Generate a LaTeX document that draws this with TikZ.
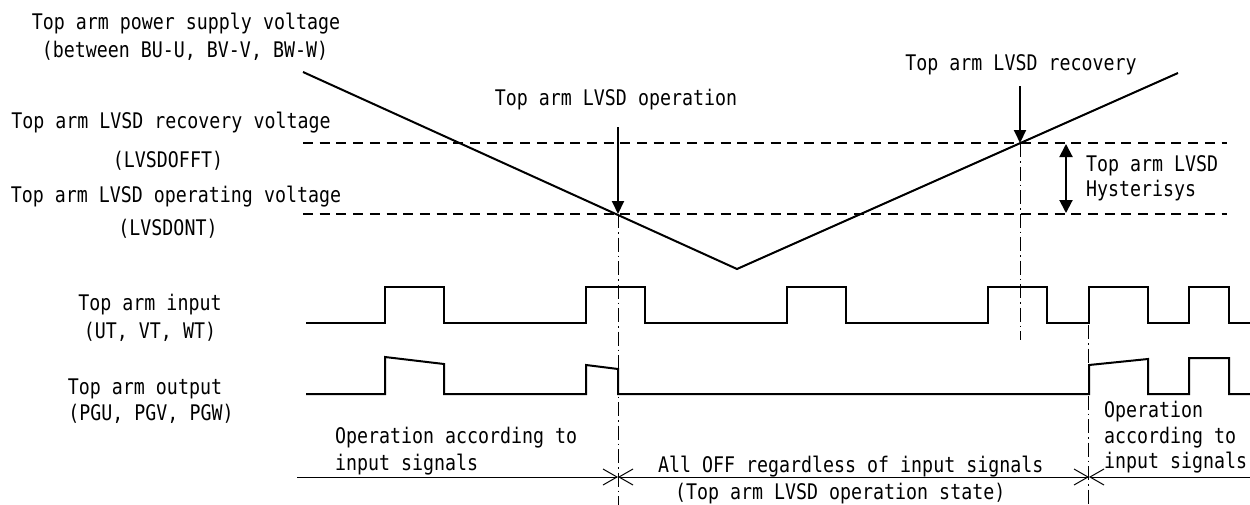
\documentclass[tikz,border=0pt]{standalone}
\usepackage{fontspec}
\newfontfamily\gothic[FakeStretch=0.85]{DejaVu Sans Mono}
\usetikzlibrary{arrows.meta}

\begin{document}
\begin{tikzpicture}[x=1pt,y=-1pt,
    lbl/.style={anchor=base,inner sep=0pt,font=\gothic\fontsize{21.5}{25}\selectfont},
    lbll/.style={lbl,anchor=base west},
    wave/.style={line width=2pt},
    level/.style={line width=2pt,dash pattern=on 10pt off 6.7pt},
    marker/.style={line width=0.9pt,dash pattern=on 14pt off 4pt on 1.5pt off 4pt},
    pointer/.style={line width=2pt,-{Triangle[length=13pt,width=12pt]}},
    dimline/.style={line width=1pt}]
    \useasboundingbox (0,0) rectangle (1250,504);

    % Labels
    \node[lbl] (pwr1) at (186,29) {Top arm power supply voltage};
    \node[lbl] (pwr2) at (185,57) {(between BU-U, BV-V, BW-W)};
    \node[lbl] (off1) at (171,128) {Top arm LVSD recovery voltage};
    \node[lbl] (off2) at (168,167) {(LVSDOFFT)};
    \node[lbl] (on1) at (176,202) {Top arm LVSD operating voltage};
    \node[lbl] (on2) at (168,235) {(LVSDONT)};
    \node[lbl] (in1) at (150,310) {Top arm input};
    \node[lbl] (in2) at (150,338) {(UT, VT, WT)};
    \node[lbl] (out1) at (145,394) {Top arm output};
    \node[lbl] (out2) at (151,420) {(PGU, PGV, PGW)};
    \node[lbl] (opt) at (616,105) {Top arm LVSD operation};
    \node[lbl] (rect) at (1021,70) {Top arm LVSD recovery};
    \node[lbll] (hys1) at (1086,171) {Top arm LVSD};
    \node[lbll] (hys2) at (1086,196) {Hysterisys};
    \node[lbll] (opl1) at (335,443) {Operation according to};
    \node[lbll] (opl2) at (335,470) {input signals};
    \node[lbll] (alloff) at (658,472) {All OFF regardless of input signals};
    \node[lbll] (state) at (675,499) {(Top arm LVSD operation state)};
    \node[lbll] (opr1) at (1104,417) {Operation};
    \node[lbll] (opr2) at (1104,443) {according to};
    \node[lbll] (opr3) at (1104,468) {input signals};

    % Points
    \coordinate (opx) at (618,214);
    \coordinate (recx) at (1020,143);
    \coordinate (opx0) at (618,127);
    \coordinate (recx0) at (1020,86);
    \coordinate (t1) at (618,477);
    \coordinate (t2) at (1089,477);

    % Voltage levels
    \draw[level] (303,143) -- (1227,143);
    \draw[level] (303,214) -- (1227,214);
    \draw[wave] (303,72) -- (737,269) -- (1178,73);

    % Arrows
    \draw[pointer] (opx0) -- (opx);
    \draw[pointer] (recx0) -- (recx);
    \draw[line width=2pt,{Triangle[length=13pt,width=13pt]}-{Triangle[length=13pt,width=13pt]}] (1066,144) -- (1066,213);

    % Markers
    \draw[marker] (opx) -- (618,510);
    \draw[marker] (recx) -- (1020,340);
    \draw[marker] (1088,325) -- (1088,510);

    % Input
    \draw[wave] (306,323) foreach \a/\b in {385/444,586/645,787/846,988/1047,1089/1148,1189/1229} {
        -- (\a,323) -- (\a,287) -- (\b,287) -- (\b,323)} -- (1250,323);

    % Output
    \draw[wave] (306,394) -- (385,394) -- (385,357) -- (444,364) -- (444,394)
        -- (586,394) -- (586,365) -- (618,369) -- (618,394) -- (1089,394)
        -- (1089,365) -- (1148,359) -- (1148,394) -- (1189,394) -- (1189,358)
        -- (1229,358) -- (1229,394) -- (1250,394);

    % Periods
    \draw[dimline,-{Straight Barb[length=14pt,width=16pt]}] (297,477) -- (t1);
    \draw[dimline,{Straight Barb[length=14pt,width=16pt]}-{Straight Barb[length=14pt,width=16pt]}] (t1) -- (t2);
    \draw[dimline,-{Straight Barb[length=14pt,width=16pt]}] (1250,477) -- (t2);
\end{tikzpicture}
\end{document}
